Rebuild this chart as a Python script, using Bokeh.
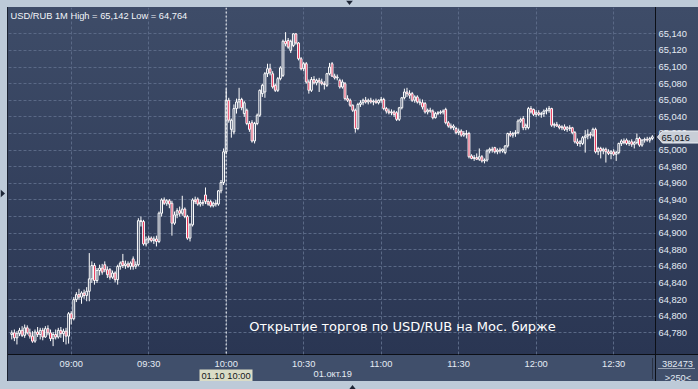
from bokeh.plotting import figure
from bokeh.layouts import column
from bokeh.models import Range1d, FixedTicker, Span, Label, ColumnDataSource
from bokeh.core.properties import value
from bokeh.embed import file_html
from bokeh.resources import INLINE

# ---------------- data (1-minute USD/RUB candles, minutes after 08:00) ----------------
first_minute = 37

open_ = [
    64.778, 64.780, 64.774, 64.779, 64.783, 64.777, 64.786, 64.780, 64.776, 64.770,
    64.781, 64.778, 64.783, 64.775, 64.785, 64.780, 64.773, 64.778, 64.775, 64.783,
    64.779, 64.782, 64.776, 64.803, 64.797, 64.820, 64.826, 64.823, 64.828, 64.825,
    64.830, 64.845, 64.861, 64.843, 64.855, 64.858, 64.862, 64.856, 64.856, 64.847,
    64.852, 64.844, 64.860, 64.866, 64.861, 64.863, 64.860, 64.869, 64.860, 64.862,
    64.915, 64.914, 64.887, 64.892, 64.894, 64.891, 64.893, 64.890, 64.924, 64.940,
    64.936, 64.939, 64.936, 64.912, 64.922, 64.927, 64.924, 64.929, 64.920, 64.894,
    64.910, 64.940, 64.941, 64.935, 64.937, 64.946, 64.938, 64.938, 64.933, 64.936,
    64.935, 64.951, 64.961, 64.998, 65.060, 65.025, 65.022, 65.050, 65.058, 65.061,
    65.044, 65.048, 65.032, 65.033, 65.011, 65.032, 65.042, 65.068, 65.070, 65.092,
    65.098, 65.092, 65.078, 65.072, 65.086, 65.090, 65.131, 65.132, 65.120, 65.126,
    65.140, 65.129, 65.110, 65.098, 65.104, 65.082, 65.072, 65.085, 65.081, 65.084,
    65.082, 65.080, 65.078, 65.092, 65.104, 65.089, 65.087, 65.084, 65.076, 65.080,
    65.062, 65.060, 65.054, 65.048, 65.026, 65.055, 65.057, 65.060, 65.058, 65.060,
    65.058, 65.059, 65.057, 65.060, 65.061, 65.050, 65.047, 65.045, 65.046, 65.045,
    65.037, 65.051, 65.063, 65.070, 65.068, 65.068, 65.060, 65.064, 65.058, 65.057,
    65.056, 65.046, 65.048, 65.047, 65.039, 65.044, 65.045, 65.046, 65.049, 65.033,
    65.029, 65.027, 65.026, 65.021, 65.023, 65.018, 65.020, 65.020, 64.993, 64.990,
    64.991, 64.989, 64.992, 64.987, 64.988, 64.999, 65.001, 65.003, 64.998, 65.000,
    64.999, 64.997, 65.005, 65.020, 65.018, 65.020, 65.021, 65.035, 65.038, 65.027,
    65.027, 65.050, 65.049, 65.043, 65.045, 65.043, 65.044, 65.047, 65.048, 65.050,
    65.030, 65.031, 65.029, 65.027, 65.028, 65.025, 65.027, 65.027, 65.021, 65.010,
    65.008, 65.008, 65.015, 65.017, 65.019, 65.018, 65.025, 64.998, 65.002, 64.999,
    65.001, 64.998, 64.996, 64.998, 64.995, 64.997, 65.008, 65.011, 65.012, 65.008,
    65.010, 65.007, 65.009, 65.014, 65.006, 65.012, 65.013, 65.012, 65.014,
]

high = [
    64.783, 64.784, 64.782, 64.786, 64.788, 64.790, 64.789, 64.785, 64.782, 64.784,
    64.787, 64.786, 64.786, 64.788, 64.789, 64.784, 64.781, 64.784, 64.786, 64.787,
    64.785, 64.786, 64.805, 64.806, 64.823, 64.829, 64.833, 64.830, 64.832, 64.835,
    64.876, 64.866, 64.864, 64.858, 64.862, 64.863, 64.866, 64.860, 64.858, 64.855,
    64.854, 64.862, 64.866, 64.875, 64.867, 64.866, 64.866, 64.872, 64.866, 64.918,
    64.920, 64.916, 64.896, 64.897, 64.896, 64.896, 64.897, 64.926, 64.942, 64.943,
    64.941, 64.941, 64.939, 64.926, 64.930, 64.932, 64.945, 64.931, 64.922, 64.912,
    64.942, 64.944, 64.943, 64.940, 64.940, 64.955, 64.941, 64.940, 64.938, 64.940,
    64.952, 64.964, 65.002, 65.074, 65.063, 65.038, 65.055, 65.062, 65.075, 65.063,
    65.059, 65.050, 65.035, 65.036, 65.034, 65.044, 65.073, 65.080, 65.094, 65.104,
    65.104, 65.095, 65.080, 65.088, 65.101, 65.133, 65.142, 65.135, 65.133, 65.141,
    65.141, 65.130, 65.112, 65.106, 65.106, 65.085, 65.088, 65.089, 65.086, 65.087,
    65.086, 65.083, 65.093, 65.105, 65.106, 65.092, 65.091, 65.086, 65.085, 65.082,
    65.066, 65.062, 65.055, 65.050, 65.057, 65.060, 65.062, 65.064, 65.062, 65.063,
    65.061, 65.062, 65.061, 65.064, 65.063, 65.052, 65.050, 65.049, 65.048, 65.047,
    65.052, 65.064, 65.074, 65.075, 65.072, 65.070, 65.066, 65.066, 65.062, 65.061,
    65.058, 65.050, 65.051, 65.049, 65.046, 65.047, 65.048, 65.049, 65.051, 65.035,
    65.032, 65.031, 65.028, 65.026, 65.025, 65.023, 65.024, 65.022, 64.995, 64.994,
    64.996, 65.002, 64.994, 64.990, 65.001, 65.003, 65.004, 65.004, 65.002, 65.003,
    65.002, 65.006, 65.021, 65.023, 65.022, 65.024, 65.037, 65.039, 65.041, 65.032,
    65.052, 65.053, 65.050, 65.048, 65.048, 65.046, 65.049, 65.051, 65.053, 65.051,
    65.033, 65.034, 65.031, 65.030, 65.031, 65.029, 65.030, 65.028, 65.023, 65.014,
    65.012, 65.017, 65.024, 65.025, 65.022, 65.027, 65.027, 65.004, 65.004, 65.003,
    65.003, 65.001, 65.000, 65.001, 64.999, 65.009, 65.013, 65.014, 65.014, 65.012,
    65.013, 65.011, 65.020, 65.016, 65.013, 65.015, 65.016, 65.016, 65.018,
]

low = [
    64.772, 64.770, 64.766, 64.776, 64.775, 64.774, 64.778, 64.773, 64.768, 64.768,
    64.775, 64.772, 64.771, 64.774, 64.777, 64.770, 64.764, 64.772, 64.773, 64.774,
    64.769, 64.766, 64.767, 64.790, 64.795, 64.817, 64.820, 64.815, 64.821, 64.818,
    64.818, 64.840, 64.838, 64.840, 64.849, 64.850, 64.853, 64.846, 64.844, 64.845,
    64.841, 64.838, 64.856, 64.858, 64.857, 64.858, 64.856, 64.856, 64.857, 64.860,
    64.908, 64.885, 64.884, 64.888, 64.889, 64.887, 64.884, 64.888, 64.920, 64.934,
    64.933, 64.930, 64.897, 64.910, 64.918, 64.920, 64.921, 64.918, 64.892, 64.890,
    64.908, 64.935, 64.933, 64.932, 64.933, 64.935, 64.933, 64.931, 64.931, 64.932,
    64.933, 64.948, 64.958, 64.995, 65.033, 65.015, 65.019, 65.044, 65.050, 65.048,
    65.040, 65.030, 65.022, 65.009, 65.008, 65.030, 65.040, 65.064, 65.063, 65.088,
    65.090, 65.074, 65.070, 65.070, 65.084, 65.088, 65.125, 65.122, 65.117, 65.124,
    65.127, 65.108, 65.096, 65.095, 65.080, 65.068, 65.070, 65.079, 65.078, 65.070,
    65.078, 65.073, 65.076, 65.090, 65.088, 65.085, 65.084, 65.074, 65.074, 65.060,
    65.058, 65.052, 65.046, 65.021, 65.024, 65.052, 65.054, 65.056, 65.055, 65.056,
    65.054, 65.056, 65.055, 65.057, 65.048, 65.044, 65.043, 65.042, 65.040, 65.035,
    65.035, 65.049, 65.061, 65.064, 65.062, 65.058, 65.057, 65.056, 65.054, 65.049,
    65.044, 65.043, 65.045, 65.037, 65.038, 65.042, 65.043, 65.043, 65.031, 65.027,
    65.025, 65.024, 65.019, 65.018, 65.016, 65.016, 65.014, 64.990, 64.989, 64.987,
    64.988, 64.987, 64.985, 64.984, 64.986, 64.996, 64.997, 64.996, 64.995, 64.996,
    64.997, 64.995, 65.003, 65.016, 65.015, 65.016, 65.019, 65.033, 65.024, 65.024,
    65.025, 65.044, 65.041, 65.040, 65.041, 65.039, 65.040, 65.043, 65.045, 65.028,
    65.027, 65.028, 65.025, 65.024, 65.023, 65.022, 65.023, 65.019, 65.008, 65.005,
    65.004, 65.006, 64.997, 65.013, 65.014, 65.016, 64.996, 64.994, 64.990, 64.995,
    64.985, 64.994, 64.989, 64.993, 64.987, 64.995, 65.005, 65.007, 65.006, 65.005,
    65.004, 65.002, 65.007, 65.004, 65.004, 65.009, 65.010, 65.009, 65.012,
]

close = [
    64.780, 64.774, 64.779, 64.783, 64.777, 64.786, 64.780, 64.776, 64.770, 64.781,
    64.778, 64.783, 64.775, 64.785, 64.780, 64.773, 64.778, 64.775, 64.783, 64.779,
    64.782, 64.776, 64.803, 64.797, 64.820, 64.826, 64.823, 64.828, 64.825, 64.830,
    64.845, 64.861, 64.843, 64.855, 64.858, 64.853, 64.856, 64.850, 64.847, 64.852,
    64.844, 64.860, 64.864, 64.861, 64.863, 64.860, 64.864, 64.860, 64.862, 64.915,
    64.914, 64.887, 64.892, 64.894, 64.891, 64.893, 64.890, 64.924, 64.940, 64.936,
    64.939, 64.935, 64.912, 64.922, 64.927, 64.924, 64.929, 64.920, 64.894, 64.910,
    64.940, 64.938, 64.935, 64.937, 64.936, 64.938, 64.935, 64.933, 64.936, 64.935,
    64.951, 64.961, 64.998, 65.060, 65.036, 65.036, 65.050, 65.058, 65.061, 65.051,
    65.057, 65.032, 65.025, 65.011, 65.032, 65.042, 65.072, 65.078, 65.092, 65.098,
    65.093, 65.076, 65.072, 65.086, 65.099, 65.131, 65.128, 65.124, 65.131, 65.140,
    65.129, 65.110, 65.098, 65.104, 65.082, 65.072, 65.085, 65.081, 65.084, 65.082,
    65.080, 65.079, 65.092, 65.100, 65.089, 65.087, 65.088, 65.076, 65.082, 65.062,
    65.060, 65.054, 65.048, 65.026, 65.055, 65.057, 65.060, 65.058, 65.060, 65.058,
    65.059, 65.057, 65.060, 65.061, 65.050, 65.047, 65.045, 65.046, 65.043, 65.037,
    65.051, 65.063, 65.070, 65.068, 65.066, 65.060, 65.064, 65.058, 65.057, 65.052,
    65.046, 65.048, 65.047, 65.039, 65.044, 65.045, 65.046, 65.047, 65.033, 65.029,
    65.027, 65.029, 65.021, 65.023, 65.018, 65.020, 65.019, 64.992, 64.990, 64.991,
    64.989, 64.992, 64.987, 64.988, 64.999, 65.001, 65.000, 64.998, 65.000, 64.999,
    65.001, 65.005, 65.020, 65.018, 65.020, 65.021, 65.035, 65.037, 65.027, 65.030,
    65.050, 65.046, 65.043, 65.045, 65.043, 65.044, 65.047, 65.048, 65.050, 65.030,
    65.031, 65.029, 65.027, 65.028, 65.025, 65.027, 65.026, 65.021, 65.010, 65.008,
    65.010, 65.015, 65.017, 65.019, 65.018, 65.025, 64.998, 65.002, 64.999, 65.001,
    64.998, 64.996, 64.998, 64.995, 64.997, 65.008, 65.011, 65.009, 65.008, 65.010,
    65.007, 65.009, 65.014, 65.006, 65.012, 65.013, 65.012, 65.014, 65.016,
]

x_ticks = [60, 90, 120, 150, 180, 210, 240, 270]
x_labels = ["09:00", "09:30", "10:00", "10:30", "11:00", "11:30", "12:00", "12:30"]

y_ticks = [64.78, 64.80, 64.82, 64.84, 64.86, 64.88, 64.90, 64.92, 64.94, 64.96,
           64.98, 65.00, 65.02, 65.04, 65.06, 65.08, 65.10, 65.12, 65.14]
y_labels = ["64,780", "64,800", "64,820", "64,840", "64,860", "64,880", "64,900",
            "64,920", "64,940", "64,960", "64,980", "65,000", "65,020", "65,040",
            "65,060", "65,080", "65,100", "65,120", "65,140"]

header_text = "USD/RUB 1M High = 65,142 Low = 64,764"
note_text = "Открытие торгов по USD/RUB на Мос. бирже"
last_price_text = "65,016"
cursor_text = "01.10 10:00"
date_text = "01.окт.19"
volume_text = "382473"
count_text = ">250<"
session_open_minute = 120

# ---------------- main chart ----------------
n = len(close)
minutes = [first_minute + i for i in range(n)]
body_top = [max(o, c) for o, c in zip(open_, close)]
body_bot = [min(o, c) for o, c in zip(open_, close)]
up_idx = [i for i in range(n) if close[i] >= open_[i]]
dn_idx = [i for i in range(n) if close[i] < open_[i]]

src_all = ColumnDataSource(dict(t=minutes, h=high, l=low, top=body_top, bot=body_bot))
src_up = ColumnDataSource(dict(t=[minutes[i] for i in up_idx],
                               top=[body_top[i] for i in up_idx],
                               bot=[body_bot[i] for i in up_idx]))
src_dn = ColumnDataSource(dict(t=[minutes[i] for i in dn_idx],
                               top=[body_top[i] for i in dn_idx],
                               bot=[body_bot[i] for i in dn_idx]))

p = figure(width=698, height=389, output_backend="svg", toolbar_location=None,
           x_range=Range1d(35.73, 286.21), y_range=Range1d(64.7539, 65.1717),
           y_axis_location="right",
           min_border_left=8, min_border_right=43, min_border_top=7, min_border_bottom=35)

p.border_fill_alpha = 0
p.background_fill_alpha = 0
p.outline_line_color = None
p.styles = {
    "background": (
        "linear-gradient(#0c0f16,#0c0f16) 8px 354px / 690px 1px no-repeat,"
        "linear-gradient(#0c0f16,#0c0f16) 655px 7px / 1px 374px no-repeat,"
        "linear-gradient(#2a3243,#2a3243) 652px 358px / 1px 21px no-repeat,"
        "linear-gradient(#9aa4b4,#9aa4b4) 658px 368px / 37px 1px no-repeat,"
        "linear-gradient(#1b2231,#1b2231) 7px 7px / 1px 374px no-repeat,"
        "linear-gradient(#404f6b,#404f6b) 8px 355px / 690px 26px no-repeat,"
        "linear-gradient(to bottom,#3e4c68,#2a3653) 8px 7px / 690px 348px no-repeat,"
        "#bdcad8"
    )
}

font = "Liberation Sans"
label_color = "#e4ebf4"

xa = p.xaxis[0]
xa.ticker = FixedTicker(ticks=x_ticks)
xa.major_label_overrides = dict(zip(x_ticks, x_labels))
ya = p.yaxis[0]
ya.ticker = FixedTicker(ticks=y_ticks)
ya.major_label_overrides = dict(zip(y_ticks, y_labels))
for ax in (xa, ya):
    ax.axis_line_color = None
    ax.major_tick_line_color = None
    ax.minor_tick_line_color = None
    ax.major_tick_in = 0
    ax.major_tick_out = 0
    ax.minor_tick_out = 0
    ax.major_label_text_font = font
    ax.major_label_text_font_size = "9.3px"
    ax.major_label_text_color = label_color
xa.major_label_standoff = 4
ya.major_label_standoff = 3

p.xgrid.ticker = FixedTicker(ticks=x_ticks)
p.ygrid.ticker = FixedTicker(ticks=y_ticks)
for g in (p.xgrid, p.ygrid):
    g.grid_line_color = "#5a6986"
    g.grid_line_dash = "3 2"
    g.grid_line_width = 1

p.add_layout(Span(location=session_open_minute, dimension="height",
                  line_color="#ffffff", line_dash="2 2", line_width=1))

wick = "#ffffff"
p.segment(x0="t", y0="h", x1="t", y1="top", source=src_all, line_color=wick, line_width=1)
p.segment(x0="t", y0="bot", x1="t", y1="l", source=src_all, line_color=wick, line_width=1)
p.vbar(x="t", width=0.7, top="top", bottom="bot", source=src_up,
       fill_alpha=0, line_color="#ffffff", line_width=1)
p.vbar(x="t", width=0.7, top="top", bottom="bot", source=src_dn,
       fill_color="#e8123c", line_color="#ffffff", line_width=1)

p.add_layout(Label(x=2, y=339, x_units="screen", y_units="screen", text=header_text,
                   text_font=font, text_font_size="9.3px", text_color="#f2f5f9",
                   text_baseline="middle"))
p.add_layout(Label(x=394, y=28, x_units="screen", y_units="screen", text=note_text,
                   text_font="DejaVu Sans", text_font_size="13px", text_color="#ffffff",
                   text_align="center", text_baseline="middle"))

# ---------------- transparent overlay in pixel space (for the panel badges) ----------------
ov = figure(width=698, height=389, output_backend="svg", toolbar_location=None,
            x_range=Range1d(0, 698), y_range=Range1d(389, 0),
            x_axis_location=None, y_axis_location=None, min_border=0)
ov.grid.visible = False
ov.outline_line_color = None
ov.background_fill_alpha = 0
ov.border_fill_alpha = 0
ov.margin = (-389, 0, 0, 0)
if hasattr(ov, "frame_align"):
    ov.frame_align = False
    p.frame_align = False

# last-price badge on the price scale (sits at the last close, y ~ 136 px)
ov.patch(x=[657, 662, 698, 698, 662], y=[136.5, 130.5, 130.5, 142.5, 142.5],
         fill_color="#c8ced7", line_color="#eef1f5", line_width=1)
# time cursor badge
ov.quad(left=[199], right=[252], top=[369], bottom=[380.5],
        fill_color="#dadcc6", line_color=None)
# triangles on the outer frame
ov.patches(xs=[[345.5, 352.5, 349], [0, 0, 4.5], [348.5, 355.5, 352]],
           ys=[[0, 0, 4.5], [189, 197, 193], [389, 389, 384.5]],
           fill_color="#1c2535", line_color=None)

ov.text(x=[661], y=[137], text=[last_price_text], text_font=value(font),
        text_font_size="9.3px", text_color="#10141c", text_baseline="middle")
ov.text(x=[225.5], y=[375], text=[cursor_text], text_font=value(font),
        text_font_size="9.3px", text_color="#15181d", text_align="center",
        text_baseline="middle")
ov.text(x=[313], y=[373.5], text=[date_text], text_font=value(font),
        text_font_size="9.3px", text_color=label_color, text_baseline="middle")
ov.text(x=[677, 677.5], y=[363.5, 377], text=[volume_text, count_text],
        text_font=value(font), text_font_size="9.3px", text_color=label_color,
        text_align="center", text_baseline="middle")

layout = column(p, ov, spacing=0)
open("out.html", "w").write(file_html(layout, INLINE))
